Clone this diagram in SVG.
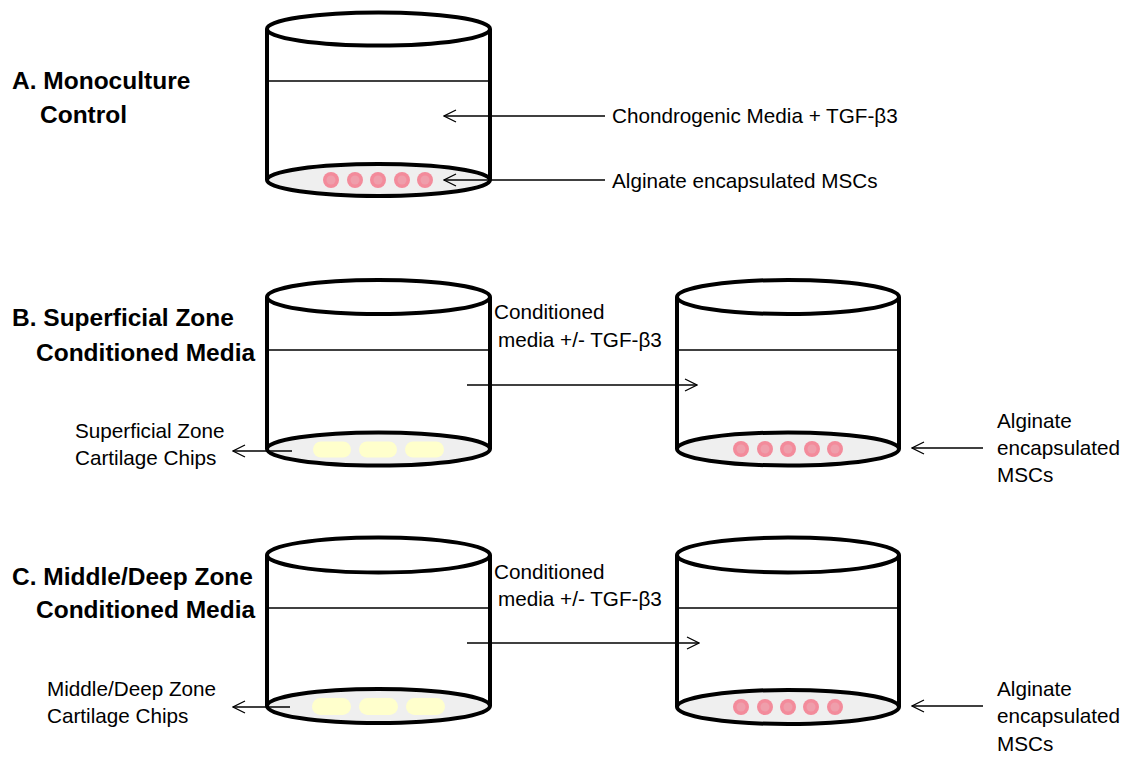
<svg xmlns="http://www.w3.org/2000/svg" width="1135" height="757" viewBox="0 0 1135 757">
<defs>
<style>
.wall{fill:none;stroke:#000;stroke-width:4}
.top{fill:#fff;stroke:#000;stroke-width:4}
.base{fill:#efefef;stroke:#000;stroke-width:4}
.water{stroke:#000;stroke-width:1.5}
.cell{fill:#f38b9b}
.core{fill:#ef9eab}
.chip{fill:#ffffcc}
.conn{stroke:#000;stroke-width:1.3;fill:none}
.head{font-family:"Liberation Sans",Arial,sans-serif;font-weight:bold;font-size:24.5px;fill:#000}
.lbl{font-family:"Liberation Sans",Arial,sans-serif;font-size:20.7px;fill:#000}
</style>
<marker id="open" viewBox="0 0 14 14" refX="13" refY="7" markerWidth="14" markerHeight="14" markerUnits="userSpaceOnUse" orient="auto">
<path d="M1,1 L13,7 L1,13" fill="none" stroke="#000" stroke-width="1.3"/>
</marker>
<g id="cells">
<circle cx="0" cy="0" r="8" class="cell"/><circle cx="0" cy="0" r="4.5" class="core"/>
</g>
</defs>
<rect width="1135" height="757" fill="#fff"/>

<g id="cylA">
<line x1="267" y1="29" x2="267" y2="180" class="wall"/>
<line x1="490" y1="29" x2="490" y2="180" class="wall"/>
<ellipse cx="378.5" cy="180" rx="111.5" ry="16" class="base"/>
<ellipse cx="378.5" cy="29" rx="111.5" ry="16.5" class="top"/>
<line x1="267" y1="81" x2="490" y2="81" class="water"/>
<use href="#cells" x="331" y="180"/><use href="#cells" x="355" y="180"/><use href="#cells" x="378" y="180"/><use href="#cells" x="402" y="180"/><use href="#cells" x="425" y="180"/>
</g>

<g id="cylB1">
<line x1="267" y1="297" x2="267" y2="449" class="wall"/>
<line x1="490" y1="297" x2="490" y2="449" class="wall"/>
<ellipse cx="378.5" cy="449" rx="111.5" ry="16.5" class="base"/>
<ellipse cx="378.5" cy="297" rx="111.5" ry="17" class="top"/>
<line x1="267" y1="350" x2="490" y2="350" class="water"/>
<rect x="313" y="441.5" width="38" height="16" rx="8" class="chip"/>
<rect x="359" y="441.5" width="38" height="16" rx="8" class="chip"/>
<rect x="405" y="441.5" width="39" height="16" rx="8" class="chip"/>
</g>

<g id="cylB2">
<line x1="677" y1="297" x2="677" y2="449" class="wall"/>
<line x1="899" y1="297" x2="899" y2="449" class="wall"/>
<ellipse cx="788" cy="449" rx="111" ry="16.5" class="base"/>
<ellipse cx="788" cy="297" rx="111" ry="17" class="top"/>
<line x1="677" y1="350" x2="899" y2="350" class="water"/>
<use href="#cells" x="741" y="449"/><use href="#cells" x="765" y="449"/><use href="#cells" x="788" y="449"/><use href="#cells" x="812" y="449"/><use href="#cells" x="835" y="449"/>
</g>

<g id="cylC1">
<line x1="267" y1="555" x2="267" y2="706" class="wall"/>
<line x1="490" y1="555" x2="490" y2="706" class="wall"/>
<ellipse cx="378.5" cy="706" rx="111.5" ry="17" class="base"/>
<ellipse cx="378.5" cy="555" rx="111.5" ry="17.5" class="top"/>
<line x1="267" y1="608" x2="490" y2="608" class="water"/>
<rect x="312" y="698" width="39" height="17" rx="8.5" class="chip"/>
<rect x="359" y="698" width="39" height="17" rx="8.5" class="chip"/>
<rect x="406" y="698" width="39" height="17" rx="8.5" class="chip"/>
</g>

<g id="cylC2">
<line x1="677" y1="555" x2="677" y2="707" class="wall"/>
<line x1="899" y1="555" x2="899" y2="707" class="wall"/>
<ellipse cx="788" cy="707" rx="111" ry="17" class="base"/>
<ellipse cx="788" cy="555" rx="111" ry="17.5" class="top"/>
<line x1="677" y1="608" x2="899" y2="608" class="water"/>
<use href="#cells" x="741" y="707"/><use href="#cells" x="765" y="707"/><use href="#cells" x="788" y="707"/><use href="#cells" x="811" y="707"/><use href="#cells" x="835" y="707"/>
</g>

<g id="connectors">
<line x1="605" y1="116" x2="444" y2="116" class="conn" marker-end="url(#open)"/>
<line x1="605" y1="180" x2="444" y2="180" class="conn" marker-end="url(#open)"/>
<line x1="467" y1="385" x2="697" y2="385" class="conn" marker-end="url(#open)"/>
<line x1="292" y1="451" x2="233" y2="451" class="conn" marker-end="url(#open)"/>
<line x1="983" y1="448" x2="912" y2="448" class="conn" marker-end="url(#open)"/>
<line x1="467" y1="643" x2="699" y2="643" class="conn" marker-end="url(#open)"/>
<line x1="290" y1="707" x2="233" y2="707" class="conn" marker-end="url(#open)"/>
<line x1="983" y1="706" x2="912" y2="706" class="conn" marker-end="url(#open)"/>
</g>

<g id="labels">
<text x="12" y="89" class="head">A. Monoculture</text>
<text x="40" y="123" class="head">Control</text>
<text x="612" y="123" class="lbl">Chondrogenic Media + TGF-β3</text>
<text x="612" y="188" class="lbl">Alginate encapsulated MSCs</text>

<text x="12" y="326" class="head">B. Superficial Zone</text>
<text x="36" y="361" class="head">Conditioned Media</text>
<text x="494" y="319" class="lbl">Conditioned</text>
<text x="498" y="347" class="lbl">media +/- TGF-β3</text>
<text x="75" y="438" class="lbl">Superficial Zone</text>
<text x="75" y="465" class="lbl">Cartilage Chips</text>
<text x="997" y="428" class="lbl">Alginate</text>
<text x="997" y="455" class="lbl">encapsulated</text>
<text x="997" y="482" class="lbl">MSCs</text>

<text x="12" y="585" class="head">C. Middle/Deep Zone</text>
<text x="36" y="618" class="head">Conditioned Media</text>
<text x="494" y="579" class="lbl">Conditioned</text>
<text x="498" y="606" class="lbl">media +/- TGF-β3</text>
<text x="47" y="696" class="lbl">Middle/Deep Zone</text>
<text x="47" y="723" class="lbl">Cartilage Chips</text>
<text x="997" y="696" class="lbl">Alginate</text>
<text x="997" y="723" class="lbl">encapsulated</text>
<text x="997" y="751" class="lbl">MSCs</text>
</g>
</svg>
